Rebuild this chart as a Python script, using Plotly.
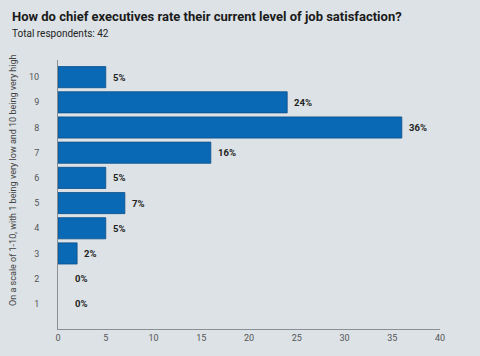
import plotly.graph_objects as go

categories = [1, 2, 3, 4, 5, 6, 7, 8, 9, 10]
values = [0, 0, 2, 5, 7, 5, 16, 36, 24, 5]
labels = ["0%", "0%", "2%", "5%", "7%", "5%", "16%", "36%", "24%", "5%"]
x_ticks = [0, 5, 10, 15, 20, 25, 30, 35, 40]

title_text = "How do chief executives rate their current level of job satisfaction?"
subtitle_text = "Total respondents: 42"
ytitle_text = "On a scale of 1-10, with 1 being very low and 10 being very high"

BG = "#dce2e6"
BAR = "#0a69b4"
FONT = "Roboto"

fig = go.Figure()
fig.add_trace(go.Bar(
    x=values, y=categories, orientation="h",
    marker=dict(color=BAR, line=dict(color="#0b4f8a",
                                     width=[0.8 if v > 0 else 0 for v in values])),
    width=0.84, hoverinfo="skip",
))

annotations = []
for v, c, t in zip(values, categories, labels):
    annotations.append(dict(
        x=v, y=c, xref="x", yref="y", text="<b>%s</b>" % t,
        showarrow=False, xanchor="left", yanchor="middle",
        xshift=5 if v > 0 else 15,
        font=dict(family=FONT, size=9.5, color="#222222"),
    ))

annotations.append(dict(
    x=-0.1257, y=1.16, xref="paper", yref="paper", text="<b>%s</b>" % title_text,
    showarrow=False, xanchor="left", yanchor="middle",
    font=dict(family=FONT, size=13, color="#1a1a1a"),
))
annotations.append(dict(
    x=-0.1257, y=1.10, xref="paper", yref="paper", text=subtitle_text,
    showarrow=False, xanchor="left", yanchor="middle",
    font=dict(family=FONT, size=10, color="#222222"),
))
annotations.append(dict(
    x=-0.118, y=0.554, xref="paper", yref="paper", text=ytitle_text,
    showarrow=False, xanchor="center", yanchor="middle", textangle=-90,
    font=dict(family=FONT, size=9, color="#444444"),
))

fig.update_layout(
    width=480, height=356,
    paper_bgcolor=BG, plot_bgcolor=BG,
    margin=dict(l=58, r=40, t=60, b=27, autoexpand=False),
    showlegend=False,
    xaxis=dict(
        range=[0, 40], tickvals=x_ticks, ticktext=[str(t) for t in x_ticks],
        showgrid=False, zeroline=False, showline=True, linecolor="#8a8f93", linewidth=1,
        ticks="", ticklen=0, automargin=False,
        tickfont=dict(family=FONT, size=9, color="#555555"),
    ),
    yaxis=dict(
        range=[0, 10.68], tickvals=categories, ticktext=[str(c) for c in categories],
        showgrid=False, zeroline=False, showline=True, linecolor="#8a8f93", linewidth=1,
        ticks="", ticklen=0, automargin=False, ticklabelstandoff=16,
        tickfont=dict(family=FONT, size=9, color="#555555"),
    ),
    annotations=annotations,
)

fig.write_html(
    "out.html",
    config={"displayModeBar": False},
    post_script="document.body.style.margin='0';document.body.style.background='%s';" % BG,
)
